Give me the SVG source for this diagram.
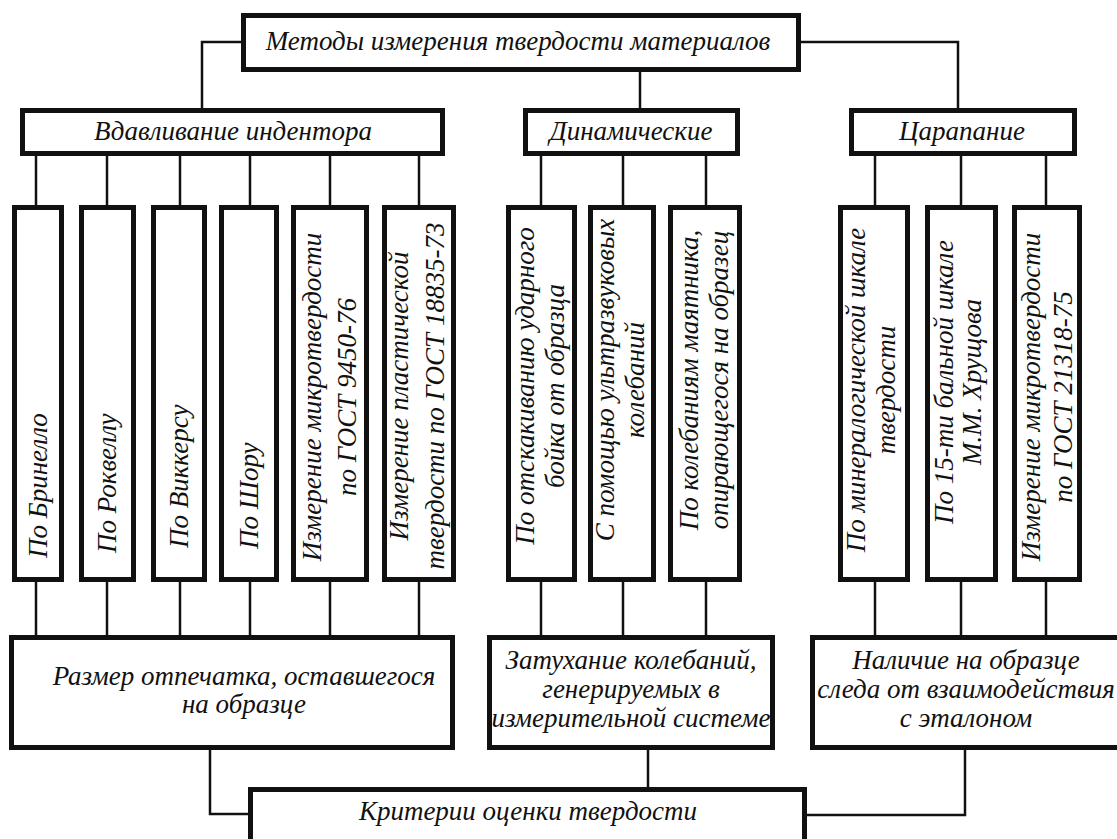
<svg xmlns="http://www.w3.org/2000/svg" width="1117" height="839" viewBox="0 0 1117 839">
<style>
.box{fill:#fff;stroke:#111;stroke-width:5}
.con{fill:none;stroke:#111;stroke-width:2.5}
text{font-family:"Liberation Serif","Times New Roman",serif;font-style:italic;font-size:27px;fill:#111}
.m{text-anchor:middle}
</style>
<rect width="1117" height="839" fill="#fff"/>
<g id="connectors">
<path class="con" d="M241 42H202V108M640 72V108M801 42H958V108"/>
<path class="con" d="M36 156V205M107 156V205M180 156V205M250 156V205M330 156V205M419 156V205M541 156V205M623 156V205M706 156V205M875 156V205M961 156V205M1046 156V205"/>
<path class="con" d="M36 582V635M107 582V635M180 582V635M250 582V635M330 582V635M419 582V635M541 582V635M623 582V635M706 582V635M875 582V635M961 582V635M1046 582V635"/>
<path class="con" d="M210 750V814H248M648 750V787M965 750V815H807"/>
</g>
<g id="root"><rect class="box" x="243.5" y="15.5" width="555" height="54"/><text class="m" x="518" y="50">Методы измерения твердости материалов</text></g>
<g id="vdavl"><rect class="box" x="22.5" y="110.5" width="420" height="43"/><text class="m" x="233" y="140">Вдавливание индентора</text></g>
<g id="dinam"><rect class="box" x="525.5" y="110.5" width="212" height="43"/><text class="m" x="631" y="140">Динамические</text></g>
<g id="tsarap"><rect class="box" x="851.5" y="110.5" width="223" height="43"/><text class="m" x="962" y="140">Царапание</text></g>

<g id="c1"><rect class="box" x="14.5" y="207.5" width="47" height="372"/><text x="47" y="558" transform="rotate(-90 47 558)">По Бринелло</text></g>
<g id="c2"><rect class="box" x="81.5" y="207.5" width="52" height="372"/><text x="116" y="553" transform="rotate(-90 116 553)">По Роквеллу</text></g>
<g id="c3"><rect class="box" x="153.5" y="207.5" width="51" height="372"/><text x="188" y="548" transform="rotate(-90 188 548)">По Виккерсу</text></g>
<g id="c4"><rect class="box" x="221.5" y="207.5" width="55" height="372"/><text x="258" y="549" transform="rotate(-90 258 549)">По Шору</text></g>
<g id="c5"><rect class="box" x="293.5" y="207.5" width="73" height="372"/><g transform="translate(0 397) rotate(-90)"><text class="m" x="0" y="321">Измерение микротвердости</text><text class="m" x="0" y="356">по ГОСТ 9450-76</text></g></g>
<g id="c6"><rect class="box" x="384.5" y="207.5" width="69" height="372"/><g transform="translate(0 396) rotate(-90)"><text class="m" x="0" y="408">Измерение пластической</text><text class="m" x="0" y="444">твердости по ГОСТ 18835-73</text></g></g>
<g id="c7"><rect class="box" x="508.5" y="207.5" width="66" height="372"/><g transform="translate(0 386) rotate(-90)"><text class="m" x="0" y="534">По отскакиванию ударного</text><text class="m" x="0" y="564">бойка от образца</text></g></g>
<g id="c8"><rect class="box" x="590.5" y="207.5" width="63" height="372"/><g transform="translate(0 380) rotate(-90)"><text class="m" x="0" y="614">С помощью ультразвуковых</text><text class="m" x="0" y="644">колебаний</text></g></g>
<g id="c9"><rect class="box" x="670.5" y="207.5" width="69" height="372"/><g transform="translate(0 380) rotate(-90)"><text class="m" x="0" y="698">По колебаниям маятника,</text><text class="m" x="0" y="728">опирающегося на образец</text></g></g>
<g id="c10"><rect class="box" x="840.5" y="207.5" width="67" height="372"/><g transform="translate(0 390) rotate(-90)"><text class="m" x="0" y="865">По минералогической шкале</text><text class="m" x="0" y="895">твердости</text></g></g>
<g id="c11"><rect class="box" x="927.5" y="207.5" width="68" height="372"/><g transform="translate(0 382) rotate(-90)"><text class="m" x="0" y="953">По 15-ти бальной шкале</text><text class="m" x="0" y="981">М.М. Хрущова</text></g></g>
<g id="c12"><rect class="box" x="1014.5" y="207.5" width="65" height="372"/><g transform="translate(0 397) rotate(-90)"><text class="m" x="0" y="1040">Измерение микротвердости</text><text class="m" x="0" y="1072">по ГОСТ 21318-75</text></g></g>

<g id="razmer"><rect class="box" x="11.5" y="637.5" width="441" height="110"/><text class="m" x="244" y="685">Размер отпечатка, оставшегося</text><text class="m" x="244" y="713">на образце</text></g>
<g id="zatuh"><rect class="box" x="489.5" y="637.5" width="283" height="110"/><text class="m" x="631" y="669">Затухание колебаний,</text><text class="m" x="631" y="698">генерируемых в</text><text class="m" x="631" y="727">измерительной системе</text></g>
<g id="nalich"><rect class="box" x="812.5" y="637.5" width="310" height="110"/><text class="m" x="966" y="669">Наличие на образце</text><text class="m" x="966" y="698">следа от взаимодействия</text><text class="m" x="966" y="727">с эталоном</text></g>
<g id="krit"><rect class="box" x="250.5" y="789.5" width="554" height="60"/><text class="m" x="528" y="820">Критерии оценки твердости</text></g>
</svg>
